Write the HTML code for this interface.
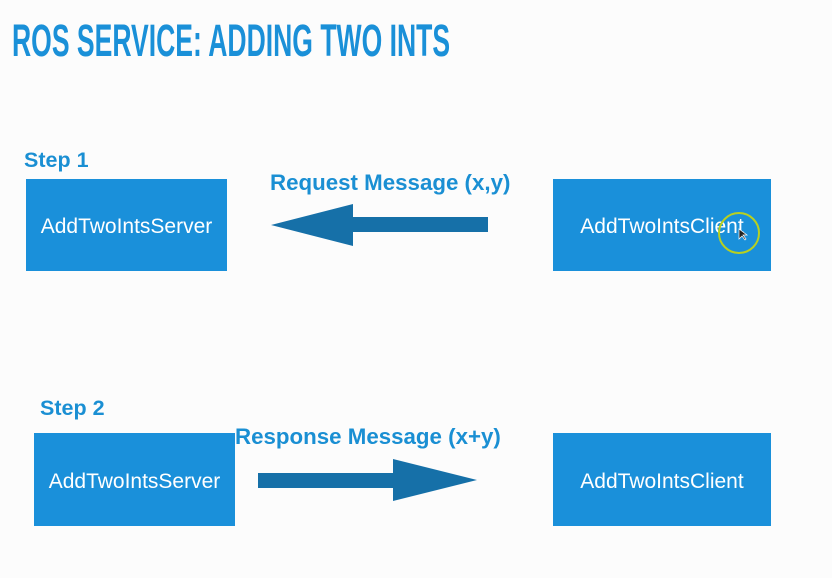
<!DOCTYPE html>
<html><head><meta charset="utf-8"><style>
body{margin:0;width:832px;height:578px;background:#fcfcfc;position:relative;overflow:hidden;font-family:"Liberation Sans",Arial,sans-serif}
.t{position:absolute;white-space:nowrap}
.title{left:12px;top:15px;font-size:45px;font-weight:bold;color:#1a90d8;transform:scaleX(0.59);transform-origin:0 0}
.lbl{font-weight:bold;color:#1a8fd3;font-size:21.5px}
.box{position:absolute;background:#1a90da;color:#fff;font-size:21px;display:flex;align-items:center;justify-content:center;padding-top:4px;box-sizing:border-box}
</style></head><body>
<div class="t title">ROS SERVICE: ADDING TWO INTS</div>
<div class="t lbl" style="left:24px;top:148px">Step 1</div>
<div class="t lbl" style="left:40px;top:396px">Step 2</div>
<div class="t lbl" style="left:270px;top:170px;font-size:22.3px">Request Message (x,y)</div>
<div class="t lbl" style="left:235px;top:424px;font-size:22.3px">Response Message (x+y)</div>
<div class="box" style="left:26px;top:179px;width:201px;height:92px">AddTwoIntsServer</div>
<div class="box" style="left:553px;top:179px;width:218px;height:92px">AddTwoIntsClient</div>
<div class="box" style="left:34px;top:433px;width:201px;height:93px">AddTwoIntsServer</div>
<div class="box" style="left:553px;top:433px;width:218px;height:93px">AddTwoIntsClient</div>
<svg width="832" height="578" style="position:absolute;left:0;top:0">
<polygon points="271,225 353,204 353,217 488,217 488,232 353,232 353,246" fill="#1670a8"/>
<polygon points="477,480 393,459 393,473 258,473 258,488 393,488 393,501" fill="#1670a8"/>
<circle cx="739" cy="233" r="20" fill="none" stroke="#b8d020" stroke-width="2"/>
<path d="M739,229 l0,10 l3,-3 l3,4 l1,-1 l-3,-4 l4,0 z" fill="#222" stroke="#fff" stroke-width="0.7"/>
</svg>
</body></html>
